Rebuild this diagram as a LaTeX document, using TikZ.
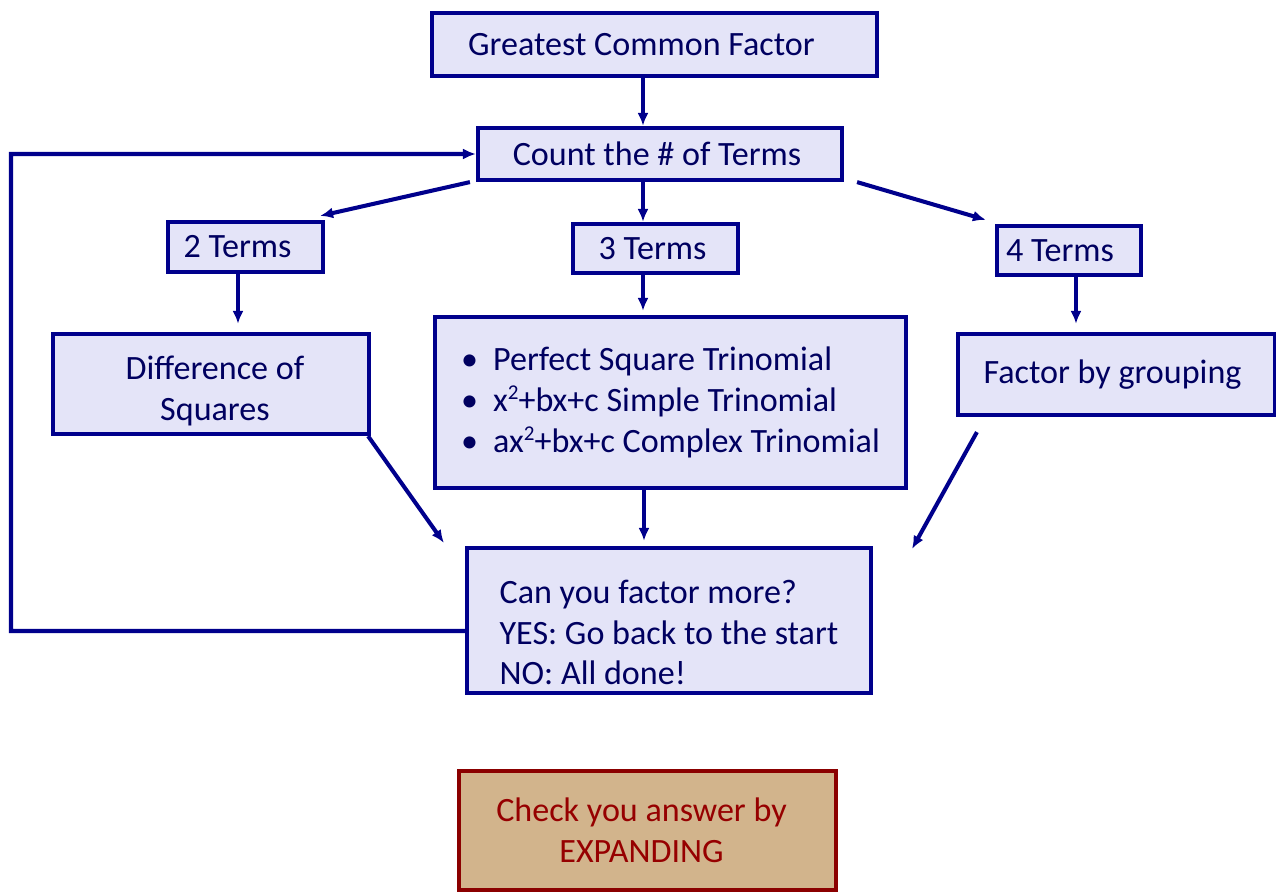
\documentclass[tikz,border=0pt]{standalone}
\usepackage{fontspec}
\setmainfont{Carlito}
\usepackage{tikz}
\usetikzlibrary{arrows.meta}
\definecolor{navyline}{RGB}{0,0,140}
\definecolor{navytext}{RGB}{0,0,96}
\definecolor{lavfill}{RGB}{228,228,248}
\definecolor{tanfill}{RGB}{210,180,140}
\definecolor{checkline}{RGB}{139,0,0}
\definecolor{checktext}{RGB}{150,0,0}
\newcommand{\bul}{\makebox[0.64cm][l]{\textbullet}}
\newcommand{\sqr}{\raisebox{0.75ex}{\fontsize{12}{12}\selectfont 2}}
\newcommand{\padr}[1]{\hspace{#1}\mbox{}}

\begin{document}
\begin{tikzpicture}[x=0.02cm, y=-0.02cm,
		stepbox/.style={draw=navyline, line width=2.4pt, fill=lavfill, text=navytext, inner sep=0pt, align=center, font=\fontsize{19.4}{23.3}\selectfont},
		checkbox/.style={draw=checkline, line width=2.4pt, fill=tanfill, text=checktext, inner sep=0pt, align=center, font=\fontsize{19.4}{23.3}\selectfont},
		arr/.style={draw=navyline, line width=2.3pt, -{Latex[length=0.26cm,width=0.22cm]}}]
			\useasboundingbox (0,0) rectangle (1276,892);
			\node[stepbox, minimum width=8.9cm, minimum height=1.26cm] (gcf) at (654.5,44.5) {Greatest Common Factor\padr{0.52cm}};
			\node[stepbox, minimum width=7.28cm, minimum height=1.04cm] (count) at (660,154) {Count the \# of Terms\padr{0.12cm}};
			\node[stepbox, minimum width=3.1cm, minimum height=1cm] (two) at (245.5,247) {2 Terms\padr{0.32cm}};
			\node[stepbox, minimum width=3.3cm, minimum height=0.98cm] (three) at (655.5,248.5) {3 Terms\padr{0.12cm}};
			\node[stepbox, minimum width=2.88cm, minimum height=0.98cm] (four) at (1069,250.5) {4 Terms\padr{0.36cm}};
			\node[stepbox, minimum width=6.32cm, minimum height=2cm, text height=45pt] (diff) at (211,384) {\hspace{0.16cm}Difference of\\\hspace{0.16cm}Squares};
			\node[stepbox, align=left, minimum width=9.42cm, minimum height=3.42cm] (tri) at (670.5,402.5) {\bul Perfect Square Trinomial\\\bul x\sqr+bx+c Simple Trinomial\\\bul ax\sqr+bx+c Complex Trinomial};
			\node[stepbox, minimum width=6.34cm, minimum height=1.62cm] (group) at (1116.5,374.5) {Factor by grouping\padr{0.16cm}};
			\node[stepbox, align=left, minimum width=8.08cm, minimum height=2.9cm, text height=73.5pt] (can) at (669,620.5) {Can you factor more?\\YES: Go back to the start\\NO: All done!};
			\node[checkbox, minimum width=7.54cm, minimum height=2.38cm] (check) at (647.5,830.5) {Check you answer by\padr{0.24cm}\\EXPANDING\padr{0.24cm}};
			\coordinate (loopc) at (11,631);
			\draw[arr] ([xshift=-0.23cm]gcf.south) -- ([xshift=-0.23cm]gcf.south |- count.north);
			\draw[arr] ([xshift=-0.12cm]count.south west) -- ([shift={(-0.1cm,0.08cm)}]two.north east);
			\draw[arr] ([xshift=-0.34cm]count.south) -- ([xshift=-0.34cm]count.south |- three.north);
			\draw[arr] ([xshift=0.26cm]count.south east) -- ([shift={(-0.18cm,0.08cm)}]four.north west);
			\draw[arr] ([xshift=-0.15cm]two.south) -- ([xshift=-0.15cm,yshift=0.16cm]two.south |- diff.north);
			\draw[arr] ([xshift=-0.25cm]three.south) -- ([xshift=-0.25cm,yshift=0.08cm]three.south |- tri.north);
			\draw[arr] ([xshift=0.14cm]four.south) -- ([xshift=0.14cm,yshift=0.16cm]four.south |- group.north);
			\draw[arr] ([xshift=-0.06cm]diff.south east) -- ([shift={(-0.42cm,0.06cm)}]can.north west);
			\draw[arr] ([xshift=-0.53cm]tri.south) -- ([xshift=-0.53cm,yshift=0.1cm]tri.south |- can.north);
			\draw[arr] ([shift={(0.42cm,-0.3cm)}]group.south west) -- ([shift={(0.78cm,-0.06cm)}]can.north east);
			\draw[arr] ([yshift=-0.21cm]can.west) -- (loopc) |- (count.west);
		\end{tikzpicture}
\end{document}
